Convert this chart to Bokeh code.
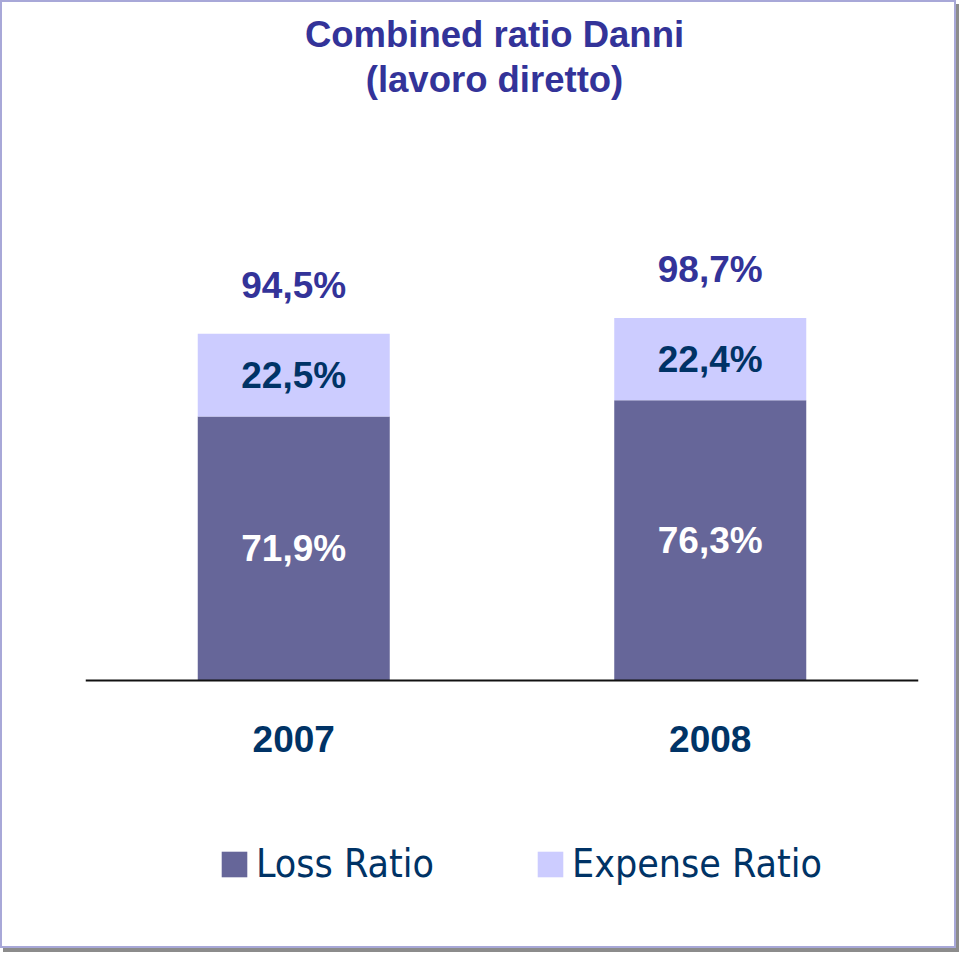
from bokeh.plotting import figure
from bokeh.models import ColumnDataSource, FactorRange, Range1d, Label, Legend, LegendItem
from bokeh.core.properties import value
from bokeh.embed import file_html
from bokeh.resources import INLINE

# ---- data ----
years = ["2007", "2008"]
loss_ratio = [71.9, 76.3]
expense_ratio = [22.5, 22.4]
combined_ratio = [94.5, 98.7]
series_names = ["Loss Ratio", "Expense Ratio"]
title_lines = ["Combined ratio Danni", "(lavoro diretto)"]

LOSS_COLOR = "#666699"
EXP_COLOR = "#CCCCFF"
TITLE_COLOR = "#333399"
NAVY = "#003366"
BOLD_FONT = "Liberation Sans"
LEGEND_FONT = "DejaVu Sans Condensed"


def fmt(v):
    return f"{v:.1f}".replace(".", ",") + "%"


stack_top = [l + e for l, e in zip(loss_ratio, expense_ratio)]
src = ColumnDataSource(dict(
    year=years,
    loss=loss_ratio,
    expense=expense_ratio,
    loss_mid=[l / 2 for l in loss_ratio],
    exp_mid=[l + e / 2 for l, e in zip(loss_ratio, expense_ratio)],
    total_pos=[t + 13.3 for t in stack_top],
    loss_txt=[fmt(v) for v in loss_ratio],
    exp_txt=[fmt(v) for v in expense_ratio],
    total_txt=[fmt(v) for v in combined_ratio],
))

W, H = 956, 948
PX_PER_UNIT = 3.672
zero_px = 678  # distance of the baseline from the top of the frame

p = figure(
    width=W, height=H,
    x_range=FactorRange(factors=years, range_padding=0),
    y_range=Range1d(-(H - zero_px) / PX_PER_UNIT, zero_px / PX_PER_UNIT),
    output_backend="svg", toolbar_location=None,
    y_axis_location=None,
    min_border_left=83, min_border_right=40,
    min_border_top=0, min_border_bottom=0,
    outline_line_color=None,
    background_fill_color="white", border_fill_color="white",
    styles={"border": "2px solid #a8a8d8", "box-shadow": "3px 4px 0 #8c8c8c"},
)
p.xgrid.visible = False
p.ygrid.visible = False

renderers = p.vbar_stack(["loss", "expense"], x="year", width=0.461,
                         color=[LOSS_COLOR, EXP_COLOR], line_color=None, source=src)

common = dict(source=src, x="year", text_align="center", text_baseline="middle",
              text_font=value(BOLD_FONT), text_font_style="bold", text_font_size="37px")
p.text(y="loss_mid", text="loss_txt", text_color="white", **common)
p.text(y="exp_mid", text="exp_txt", text_color=NAVY, **common)
p.text(y="total_pos", text="total_txt", text_color=TITLE_COLOR, **common)

ax = p.xaxis[0]
ax.fixed_location = 0
ax.axis_line_color = "#111111"
ax.axis_line_width = 2
ax.major_tick_line_color = None
ax.minor_tick_line_color = None
ax.major_label_text_font = BOLD_FONT
ax.major_label_text_font_style = "bold"
ax.major_label_text_font_size = "37px"
ax.major_label_text_color = NAVY
ax.major_label_standoff = 39

for txt, yb in zip(title_lines, [916, 871]):
    p.add_layout(Label(x=409, y=yb, x_units="screen", y_units="screen", text=txt,
                       text_align="center", text_baseline="alphabetic",
                       text_font=BOLD_FONT, text_font_style="bold",
                       text_font_size="36.5px", text_color=TITLE_COLOR))

legend = Legend(
    items=[LegendItem(label=n, renderers=[r]) for n, r in zip(series_names, renderers)],
    location=(133, 64), orientation="horizontal",
    glyph_width=32, glyph_height=32, label_standoff=6, spacing=100,
    padding=0, margin=0, border_line_color=None, background_fill_alpha=0,
    label_text_font=LEGEND_FONT, label_text_font_size="39px", label_text_color=NAVY,
)
p.add_layout(legend, "center")

open("out.html", "w").write(file_html(p, INLINE))
